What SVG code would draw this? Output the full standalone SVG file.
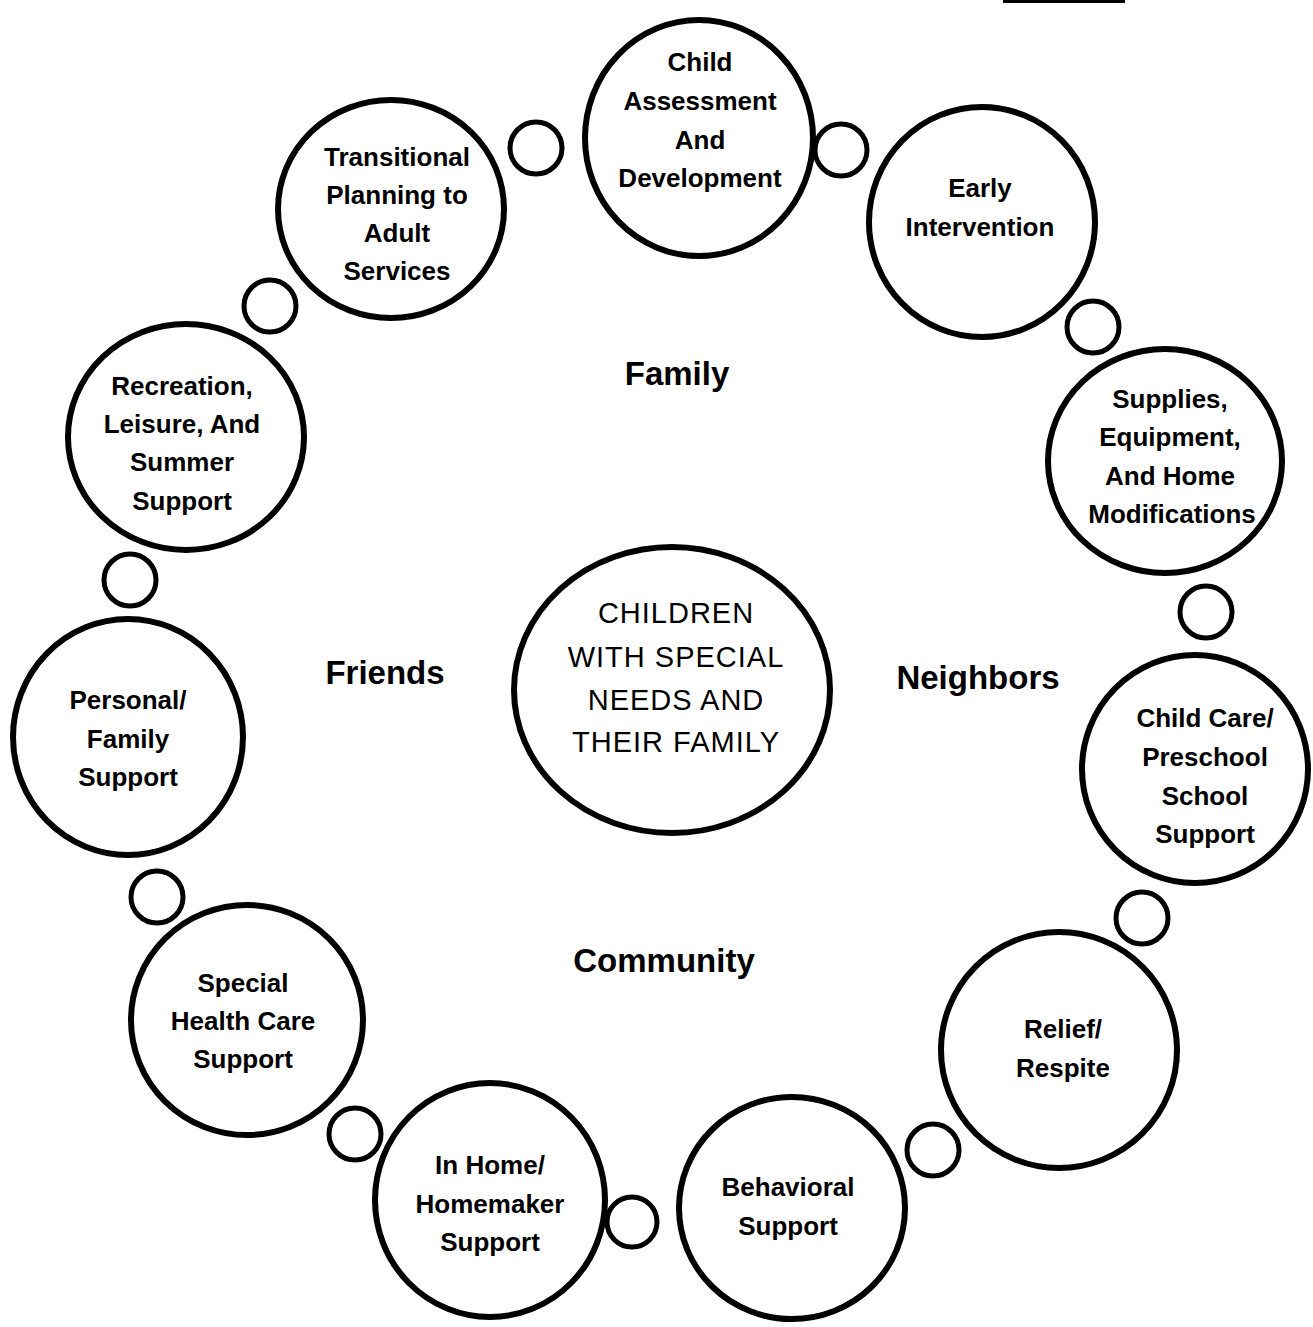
<svg xmlns="http://www.w3.org/2000/svg" width="1313" height="1327" viewBox="0 0 1313 1327">
<style>
.big{fill:none;stroke:#000;stroke-width:6}
.small{fill:none;stroke:#000;stroke-width:5}
.t{font-family:"Liberation Sans",Arial,sans-serif;font-weight:bold;font-size:26px;text-anchor:middle;fill:#000}
.c{font-family:"Liberation Sans",Arial,sans-serif;font-size:29px;letter-spacing:1px;text-anchor:middle;fill:#000}
.l{font-family:"Liberation Sans",Arial,sans-serif;font-weight:bold;font-size:33px;text-anchor:middle;fill:#000}
</style>
<rect x="0" y="0" width="1313" height="1327" fill="#fff"/>
<rect x="1003" y="0" width="122" height="3" fill="#000"/>
<g id="connectors">
<circle class="small" cx="536" cy="148" r="26"/>
<circle class="small" cx="841" cy="150" r="26"/>
<circle class="small" cx="1093" cy="327" r="26"/>
<circle class="small" cx="1206" cy="612" r="26"/>
<circle class="small" cx="1142" cy="918" r="26"/>
<circle class="small" cx="933" cy="1150" r="26"/>
<circle class="small" cx="632" cy="1222" r="25"/>
<circle class="small" cx="355" cy="1134" r="26"/>
<circle class="small" cx="157" cy="897" r="26"/>
<circle class="small" cx="130" cy="580" r="26"/>
<circle class="small" cx="270" cy="306" r="26"/>
</g>
<g id="center">
<ellipse class="big" cx="672" cy="690" rx="158" ry="143"/>
<text class="c" x="676" y="623">CHILDREN</text>
<text class="c" x="676" y="667">WITH SPECIAL</text>
<text class="c" x="676" y="710">NEEDS AND</text>
<text class="c" x="676" y="752">THEIR FAMILY</text>
</g>
<g id="child-assessment">
<ellipse class="big" cx="699" cy="138" rx="114" ry="118"/>
<text class="t" x="700" y="71">Child</text>
<text class="t" x="700" y="110">Assessment</text>
<text class="t" x="700" y="149">And</text>
<text class="t" x="700" y="187">Development</text>
</g>
<g id="early-intervention">
<ellipse class="big" cx="982" cy="222" rx="113" ry="115"/>
<text class="t" x="980" y="197">Early</text>
<text class="t" x="980" y="236">Intervention</text>
</g>
<g id="supplies">
<ellipse class="big" cx="1165" cy="461" rx="117" ry="112"/>
<text class="t" x="1170" y="408">Supplies,</text>
<text class="t" x="1170" y="446">Equipment,</text>
<text class="t" x="1170" y="485">And Home</text>
<text class="t" x="1172" y="523">Modifications</text>
</g>
<g id="child-care">
<ellipse class="big" cx="1195" cy="769" rx="113" ry="114"/>
<text class="t" x="1205" y="727">Child Care/</text>
<text class="t" x="1205" y="766">Preschool</text>
<text class="t" x="1205" y="805">School</text>
<text class="t" x="1205" y="843">Support</text>
</g>
<g id="relief">
<ellipse class="big" cx="1059" cy="1050" rx="118" ry="118"/>
<text class="t" x="1063" y="1038">Relief/</text>
<text class="t" x="1063" y="1077">Respite</text>
</g>
<g id="behavioral">
<ellipse class="big" cx="792" cy="1208" rx="113" ry="111"/>
<text class="t" x="788" y="1196">Behavioral</text>
<text class="t" x="788" y="1235">Support</text>
</g>
<g id="in-home">
<ellipse class="big" cx="490" cy="1200" rx="115" ry="117"/>
<text class="t" x="490" y="1174">In Home/</text>
<text class="t" x="490" y="1213">Homemaker</text>
<text class="t" x="490" y="1251">Support</text>
</g>
<g id="special-health">
<ellipse class="big" cx="247" cy="1020" rx="116" ry="115"/>
<text class="t" x="243" y="992">Special</text>
<text class="t" x="243" y="1030">Health Care</text>
<text class="t" x="243" y="1068">Support</text>
</g>
<g id="personal">
<ellipse class="big" cx="128" cy="737" rx="115" ry="118"/>
<text class="t" x="128" y="709">Personal/</text>
<text class="t" x="128" y="748">Family</text>
<text class="t" x="128" y="786">Support</text>
</g>
<g id="recreation">
<ellipse class="big" cx="186" cy="437" rx="118" ry="113"/>
<text class="t" x="182" y="395">Recreation,</text>
<text class="t" x="182" y="433">Leisure, And</text>
<text class="t" x="182" y="471">Summer</text>
<text class="t" x="182" y="510">Support</text>
</g>
<g id="transitional">
<ellipse class="big" cx="391" cy="209" rx="113" ry="109"/>
<text class="t" x="397" y="166">Transitional</text>
<text class="t" x="397" y="204">Planning to</text>
<text class="t" x="397" y="242">Adult</text>
<text class="t" x="397" y="280">Services</text>
</g>
<g id="labels">
<text class="l" x="677" y="385">Family</text>
<text class="l" x="385" y="684">Friends</text>
<text class="l" x="978" y="689">Neighbors</text>
<text class="l" x="664" y="972">Community</text>
</g>
</svg>
